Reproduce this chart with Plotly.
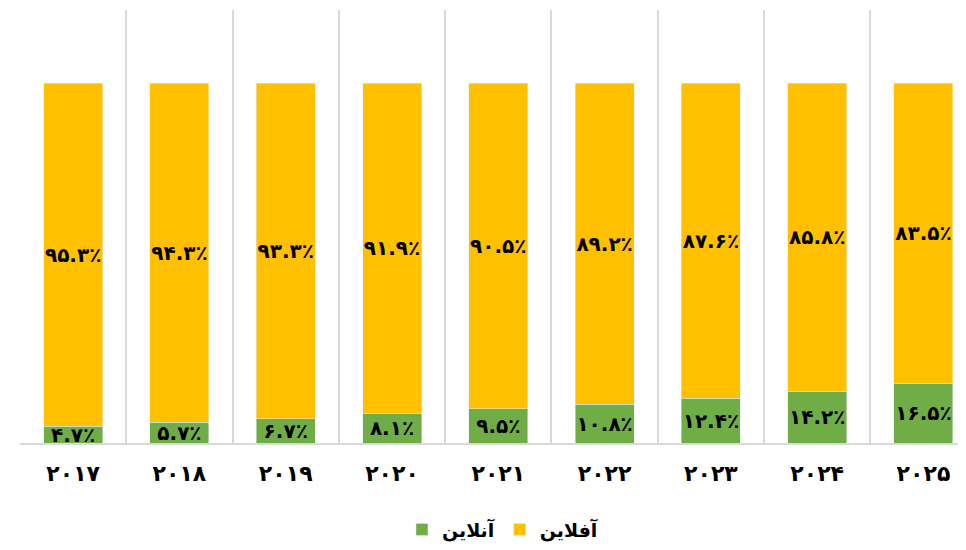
import plotly.graph_objects as go

years = ["2017", "2018", "2019", "2020", "2021", "2022", "2023", "2024", "2025"]
online = [4.7, 5.7, 6.7, 8.1, 9.5, 10.8, 12.4, 14.2, 16.5]
offline = [95.3, 94.3, 93.3, 91.9, 90.5, 89.2, 87.6, 85.8, 83.5]
online_name = "آنلاین"
offline_name = "آفلاین"

FA = str.maketrans("0123456789", "۰۱۲۳۴۵۶۷۸۹")

def fa(s):
    return str(s).translate(FA)

cats = [fa(y) for y in years]
font_family = "DejaVu Sans, Noto Sans, sans-serif"

fig = go.Figure()
fig.add_trace(go.Bar(
    x=cats, y=online, name=online_name, marker_color="#70AD47",
    text=[fa(f"{v:.1f}") + "٪" for v in online],
    textposition="inside", insidetextanchor="middle", constraintext="none",
    textangle=0,
    textfont=dict(family=font_family, size=20, color="black", weight="bold"),
    width=0.555, hoverinfo="skip",
))
fig.add_trace(go.Bar(
    x=cats, y=offline, name=offline_name, marker_color="#FFC000",
    text=[fa(f"{v:.1f}") + "٪" for v in offline],
    textposition="inside", insidetextanchor="middle", constraintext="none",
    textangle=0,
    textfont=dict(family=font_family, size=20, color="black", weight="bold"),
    width=0.555, hoverinfo="skip",
))

fig.update_layout(
    barmode="stack",
    width=966, height=550,
    margin=dict(l=12, r=8, t=2, b=115),
    plot_bgcolor="white", paper_bgcolor="white",
    font=dict(family=font_family, color="black"),
    showlegend=True,
    legend=dict(orientation="h", x=0.51, xanchor="center", y=-0.2, yanchor="middle",
                font=dict(size=19, family=font_family, weight="bold"),
                traceorder="normal"),
    xaxis=dict(
        type="category", range=[-0.5, 8.4],
        tickson="boundaries", showgrid=True, gridcolor="#d9d9d9", gridwidth=2,
        showline=True, linecolor="#d9d9d9", linewidth=2,
        ticks="", tickfont=dict(size=22, family=font_family, weight="bold"),
        ticklabelstandoff=10,
    ),
    yaxis=dict(range=[0, 120.3], visible=False, showgrid=False, zeroline=False),
)

fig.write_html("out.html")
